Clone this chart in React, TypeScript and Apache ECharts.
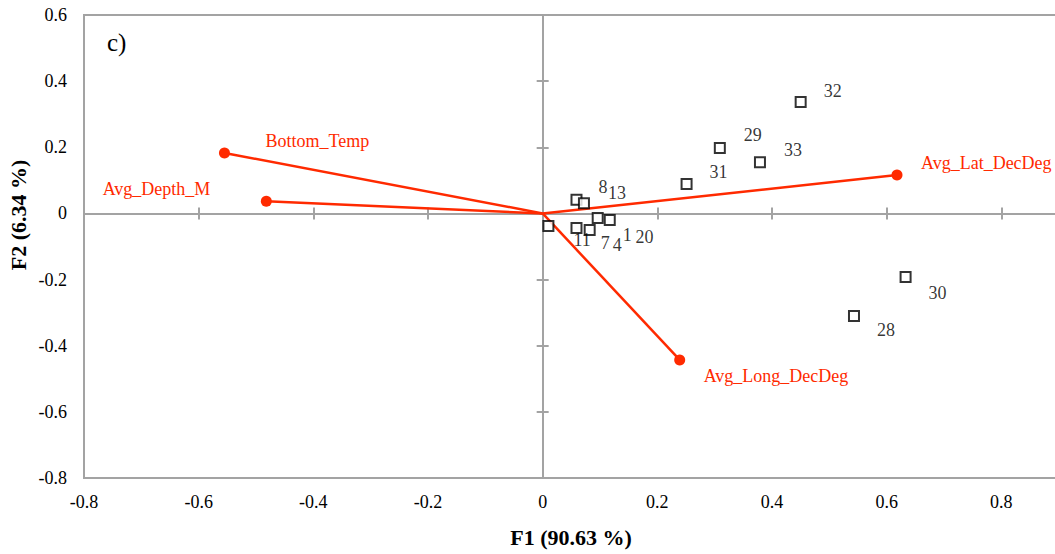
import React, { useEffect, useRef } from "react";
import * as echarts from "echarts";

// Observations (F1, F2) scores
const obsLabels = ["20", "8", "13", "11", "7", "4", "1", "31", "29", "33", "32", "30", "28"];
const obsF1 = [0.01, 0.059, 0.072, 0.059, 0.082, 0.096, 0.117, 0.251, 0.309, 0.379, 0.45, 0.633, 0.543];
const obsF2 = [-0.038, 0.041, 0.031, -0.044, -0.05, -0.014, -0.02, 0.089, 0.198, 0.155, 0.337, -0.192, -0.31];

// Variable loadings (vectors)
const varNames = ["Bottom_Temp", "Avg_Depth_M", "Avg_Lat_DecDeg", "Avg_Long_DecDeg"];
const varF1 = [-0.555, -0.482, 0.618, 0.239];
const varF2 = [0.183, 0.037, 0.116, -0.443];

// Axis ticks
const xMin = -0.8;
const xMax = 1.0;
const yMin = -0.8;
const yMax = 0.6;
const tickStep = 0.2;

// label nudges (layout only), px relative to marker centre
const obsLabelOffsets: [number, number][] = [
  [87, 11], [22, -13], [24, -10], [-3, 12], [11, 13], [15, 27], [13, 15],
  [23, -12], [24, -13], [24, -12], [23, -11], [23, 16], [23, 14],
];
const varLabelOffsets: [number, number][] = [[41, -12], [-56, -12], [24, -12], [24, 16]];
const varLabelAlign = ["left", "right", "left", "left"];

const FONT = "'Liberation Serif', 'DejaVu Serif', serif";
const GRAY = "#a3a3a3";
const RED = "#ff2a00";

function fmt(v: number) {
  const r = Math.round(v * 10) / 10;
  if (Math.abs(r) < 1e-9) return "0";
  return String(r);
}

export default function App() {
  const ref = useRef<HTMLDivElement>(null);
  useEffect(() => {
    document.body.style.margin = "0";
    const chart = echarts.init(ref.current!, undefined, { renderer: "svg" });

    const zeroAxisBase = {
      type: "value",
      min: xMin,
      max: xMax,
      interval: tickStep,
      splitLine: { show: false },
      axisLabel: { show: false },
    };

    const xAxes = [
      {
        type: "value", min: xMin, max: xMax, interval: tickStep, position: "bottom",
        axisLine: { show: false, onZero: false },
        axisTick: { show: false },
        splitLine: { show: false },
        axisLabel: {
          formatter: fmt, fontFamily: FONT, fontSize: 18, color: "#000", margin: 15,
          showMaxLabel: false,
        },
      },
      {
        ...zeroAxisBase, position: "bottom",
        axisLine: { show: true, onZero: true, onZeroAxisIndex: 0, lineStyle: { color: GRAY, width: 2 } },
        axisTick: { show: true, inside: false, length: 6, lineStyle: { color: GRAY, width: 2 } },
      },
      {
        ...zeroAxisBase, position: "bottom",
        axisLine: { show: false, onZero: true, onZeroAxisIndex: 0 },
        axisTick: { show: true, inside: true, length: 6, lineStyle: { color: GRAY, width: 2 } },
      },
    ];
    const yAxes = [
      {
        type: "value", min: yMin, max: yMax, interval: tickStep, position: "left",
        axisLine: { show: false, onZero: false },
        axisTick: { show: false },
        splitLine: { show: false },
        axisLabel: { formatter: fmt, fontFamily: FONT, fontSize: 18, color: "#000", margin: 17 },
      },
      {
        ...zeroAxisBase, min: yMin, max: yMax, position: "left",
        axisLine: { show: true, onZero: true, onZeroAxisIndex: 0, lineStyle: { color: GRAY, width: 2 } },
        axisTick: { show: true, inside: false, length: 6, lineStyle: { color: GRAY, width: 2 } },
      },
      {
        ...zeroAxisBase, min: yMin, max: yMax, position: "left",
        axisLine: { show: false, onZero: true, onZeroAxisIndex: 0 },
        axisTick: { show: true, inside: true, length: 6, lineStyle: { color: GRAY, width: 2 } },
      },
    ];

    const vectorSeries = varNames.map((name, i) => ({
      type: "line",
      name,
      xAxisIndex: 0,
      yAxisIndex: 0,
      z: 3,
      lineStyle: { color: RED, width: 2.5 },
      itemStyle: { color: RED },
      data: [
        { value: [0, 0], symbol: "none" },
        {
          value: [varF1[i], varF2[i]],
          symbol: "circle",
          symbolSize: 11,
          label: {
            show: true,
            formatter: name,
            position: "inside",
            align: varLabelAlign[i],
            verticalAlign: "middle",
            offset: varLabelOffsets[i],
            color: RED,
            fontFamily: FONT,
            fontSize: 18,
          },
        },
      ],
    }));

    const obsSeries = {
      type: "scatter",
      xAxisIndex: 0,
      yAxisIndex: 0,
      z: 4,
      symbol: "rect",
      symbolSize: 10,
      itemStyle: { color: "#fff", borderColor: "#000", borderWidth: 2 },
      data: obsLabels.map((lab, i) => ({
        value: [obsF1[i], obsF2[i]],
        name: lab,
        label: {
          show: true,
          formatter: lab,
          position: "inside",
          align: "left",
          verticalAlign: "middle",
          offset: obsLabelOffsets[i],
          color: "#000",
          fontFamily: FONT,
          fontSize: 18,
        },
      })),
    };

    chart.setOption({
      animation: false,
      grid: {
        left: 84,
        top: 15,
        width: 1032,
        height: 463,
        show: true,
        borderColor: GRAY,
        borderWidth: 2,
        backgroundColor: "transparent",
        containLabel: false,
        outerBoundsMode: "none",
      },
      xAxis: xAxes,
      yAxis: yAxes,
      series: [...vectorSeries, obsSeries],
      graphic: [
        {
          type: "text",
          left: 107,
          top: 30,
          style: { text: "c)", fontFamily: FONT, fontSize: 25, fill: "#000" },
        },
        {
          type: "text",
          x: 571,
          y: 537,
          style: {
            text: "F1 (90.63 %)", fontFamily: FONT, fontSize: 22, fontWeight: "bold",
            fill: "#000", align: "center", verticalAlign: "middle",
          },
        },
        {
          type: "text",
          x: 18,
          y: 215,
          rotation: Math.PI / 2,
          style: {
            text: "F2 (6.34 %)", fontFamily: FONT, fontSize: 22, fontWeight: "bold",
            fill: "#000", align: "center", verticalAlign: "middle",
          },
        },
      ],
    });
    return () => chart.dispose();
  }, []);
  return <div ref={ref} style={{ width: 1055, height: 554 }} />;
}
